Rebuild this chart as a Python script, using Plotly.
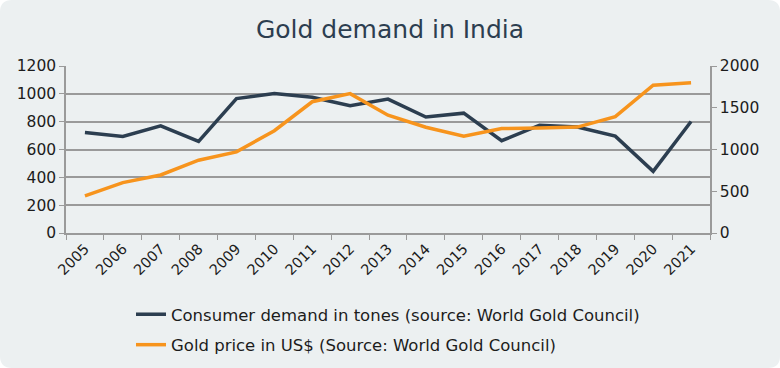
import plotly.graph_objects as go

years = [str(y) for y in range(2005, 2022)]
demand_tonnes = [722, 694, 770, 658, 966, 1002, 976, 914, 962, 833, 861, 663, 775, 761, 696, 443, 801]
gold_price_usd = [445, 604, 695, 872, 972, 1225, 1572, 1669, 1411, 1266, 1160, 1251, 1257, 1268, 1393, 1770, 1799]
left_ticks = [0, 200, 400, 600, 800, 1000, 1200]
right_ticks = [0, 500, 1000, 1500, 2000]

NAVY = "#2c3e50"
ORANGE = "#f7941d"
GRID = "#9a9a9a"
BG = "#ecf0f1"
TXT = "#1c1c1c"
FONT = "DejaVu Sans"

fig = go.Figure()
fig.add_trace(go.Scatter(x=years, y=demand_tonnes, mode="lines",
                         name="Consumer demand in tones (source: World Gold Council)",
                         line=dict(color=NAVY, width=3.5), legendgroup="a"))
fig.add_trace(go.Scatter(x=years, y=gold_price_usd, mode="lines", yaxis="y2",
                         name="Gold price in US$ (Source: World Gold Council)",
                         line=dict(color=ORANGE, width=3.5), legendgroup="b"))

# plot area in pixels: x 66..710, y 66..233
L, R, T, B = 66, 710, 66, 233
W, H = R - L, B - T
def px(x):
    return (x - L) / W
def py(y):
    return (B - y) / H

r = 12
x0, x1, y0, y1 = 0, 780, 0, 368
path = (f"M {px(x0+r)},{py(y0)} L {px(x1-r)},{py(y0)} "
        f"Q {px(x1)},{py(y0)} {px(x1)},{py(y0+r)} "
        f"L {px(x1)},{py(y1-r)} Q {px(x1)},{py(y1)} {px(x1-r)},{py(y1)} "
        f"L {px(x0+r)},{py(y1)} Q {px(x0)},{py(y1)} {px(x0)},{py(y1-r)} "
        f"L {px(x0)},{py(y0+r)} Q {px(x0)},{py(y0)} {px(x0+r)},{py(y0)} Z")

fig.update_layout(
    width=780, height=368,
    margin=dict(l=L, r=780 - R, t=T, b=368 - B, autoexpand=False),
    paper_bgcolor="white", plot_bgcolor="rgba(0,0,0,0)",
    font=dict(family=FONT, color=TXT, size=14),
    title=dict(text="Gold demand in India", x=0.5, xanchor="center", y=1 - 29 / 368, yanchor="middle",
               font=dict(family=FONT, size=25, color=NAVY)),
    shapes=[dict(type="path", path=path, xref="paper", yref="paper", layer="below",
                 fillcolor=BG, line=dict(width=0))],
    xaxis=dict(type="category", range=[-0.5, len(years) - 0.5], tickangle=-45,
               showgrid=False, showline=True, automargin=False,
               linecolor=GRID, linewidth=1.5, ticks="outside", tickson="boundaries",
               ticklen=5, tickcolor=GRID, tickfont=dict(size=14.5, color=TXT)),
    yaxis=dict(range=[0, 1200], tickvals=left_ticks, showgrid=True, gridcolor=GRID,
               gridwidth=1.5, showline=True, linecolor=GRID, linewidth=1.5, automargin=False,
               ticks="outside", ticklen=5, tickcolor=GRID, zeroline=False,
               tickfont=dict(size=15.5, color=TXT)),
    yaxis2=dict(range=[0, 2000], tickvals=right_ticks, overlaying="y", side="right",
                showgrid=False, showline=True, linecolor=GRID, linewidth=1.5, automargin=False,
                ticks="outside", ticklen=5, tickcolor=GRID, zeroline=False,
                tickfont=dict(size=15.5, color=TXT)),
    legend=dict(orientation="v", x=0.5, xanchor="center", y=py(297), yanchor="top",
                traceorder="grouped", tracegroupgap=6, bgcolor="rgba(0,0,0,0)",
                font=dict(size=16.5, color=TXT)),
)

fig.write_html("out.html", config={"displayModeBar": False},
               post_script="document.body.style.margin='0';document.body.style.overflow='hidden';")
